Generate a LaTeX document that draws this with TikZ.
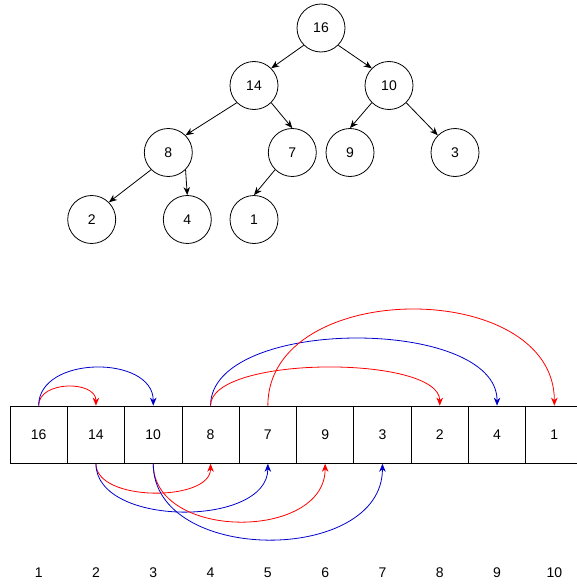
\documentclass[tikz,border=0pt]{standalone}
\usepackage{fontspec}
\setmainfont{Liberation Sans}
\usetikzlibrary{arrows.meta}
\begin{document}
\begin{tikzpicture}[x=1pt,y=-1pt,
  tnode/.style={draw,circle,line width=0.8pt,minimum size=48pt,inner sep=0pt,font=\fontsize{14}{16}\selectfont},
  cell/.style={draw,line width=0.8pt,minimum width=57.3pt,minimum height=57.3pt,inner sep=0pt,font=\fontsize{14}{16}\selectfont},
  idx/.style={font=\fontsize{14}{16}\selectfont,inner sep=0pt},
  tedge/.style={line width=0.8pt,-{Stealth[length=8pt,width=6.5pt,inset=2.5pt]}},
  redarc/.style={draw=red,line width=0.8pt,-{Stealth[length=8pt,width=6.5pt,inset=2.5pt]}},
  bluearc/.style={draw=blue!80!black,line width=0.8pt,-{Stealth[length=8pt,width=6.5pt,inset=2.5pt]}}
]
\useasboundingbox (0,0) rectangle (577,586);
% tree
\node[tnode] (t16) at (321,28) {16};
\node[tnode] (t14) at (254,85.5) {14};
\node[tnode] (t10) at (389,85.5) {10};
\node[tnode] (t8) at (168.3,152.5) {8};
\node[tnode] (t7) at (292.3,152.5) {7};
\node[tnode] (t9) at (350,152.5) {9};
\node[tnode] (t3) at (455,152.5) {3};
\node[tnode] (t2) at (91.7,219.5) {2};
\node[tnode] (t4) at (187.3,219.5) {4};
\node[tnode] (t1) at (254,219.5) {1};
\draw[tedge] (t16.south west) -- (t14.north east);
\draw[tedge] (t16.south east) -- (t10.north west);
\draw[tedge] (t14.south west) -- (t8.north east);
\draw[tedge] (t14.south east) -- (t7.north);
\draw[tedge] (t10.south west) -- (t9.north);
\draw[tedge] (t10.south east) -- (t3.north west);
\draw[tedge] (t8.south west) -- (t2.north east);
\draw[tedge] (t8.south east) -- (t4.north);
\draw[tedge] (t7.south west) -- (t1.north);
% array
\foreach \v [count=\i] in {16,14,10,8,7,9,3,2,4,1}{
  \node[cell] (c\i) at ({10+57.3*(\i-0.5)},434.7) {\v};
  \node[idx] (n\i) at ({10+57.3*(\i-0.5)},572.5) {\i};
}
% arcs above
\draw[redarc] (c1.north) .. controls +(0,-25.3) and +(0,-25.3) .. (c2.north);
\draw[bluearc] (c1.north) .. controls +(0,-50.7) and +(0,-50.7) .. (c3.north);
\draw[bluearc] (c4.north) .. controls +(0,-89.3) and +(0,-89.3) .. (c9.north);
\draw[redarc] (c4.north) .. controls +(0,-50.7) and +(0,-50.7) .. (c8.north);
\draw[redarc] (c5.north) .. controls +(0,-128) and +(0,-128) .. (c10.north);
% arcs below
\draw[redarc] (c2.south) .. controls +(0,38.3) and +(0,38.3) .. (c4.south);
\draw[bluearc] (c2.south) .. controls +(0,63.6) and +(0,63.6) .. (c5.south);
\draw[redarc] (c3.south) .. controls +(0,77) and +(0,77) .. (c6.south);
\draw[bluearc] (c3.south) .. controls +(0,101) and +(0,101) .. (c7.south);
\end{tikzpicture}
\end{document}
